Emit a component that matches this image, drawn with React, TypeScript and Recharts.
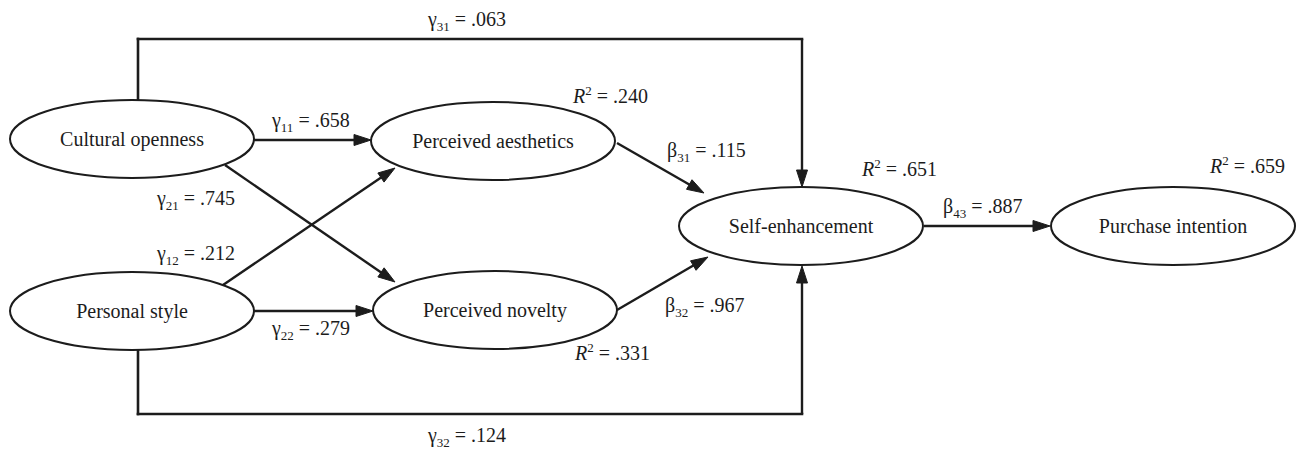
import React from 'react';
import { ScatterChart, Scatter, XAxis, YAxis, ReferenceLine } from 'recharts';

// Latent constructs (position in diagram units)
const nodeNames = [
  'Cultural openness',
  'Personal style',
  'Perceived aesthetics',
  'Perceived novelty',
  'Self-enhancement',
  'Purchase intention',
];
const nodeX = [132, 132, 493, 495, 801, 1173];
const nodeY = [139, 311, 141, 310, 226, 226];

// Path segments: [x1, y1, x2, y2, hasArrow]
const pathSegments: [number, number, number, number, boolean][] = [
  [253, 140, 371, 140, true], // CO -> PA
  [225, 165, 395, 282, true], // CO -> PN
  [223, 285, 395, 168, true], // PS -> PA
  [253, 311, 373, 311, true], // PS -> PN
  [617, 143, 704, 193, true], // PA -> SE
  [617, 310, 708, 257, true], // PN -> SE
  [924, 226, 1050, 226, true], // SE -> PI
  [138, 100, 138, 39, false], // CO -> SE (top route)
  [138, 39, 802, 39, false],
  [802, 39, 802, 187, true],
  [138, 351, 138, 414, false], // PS -> SE (bottom route)
  [138, 414, 802, 414, false],
  [802, 414, 802, 266, true],
];

// Path coefficients
const coefSymbols = ['γ', 'γ', 'γ', 'γ', 'γ', 'γ', 'β', 'β', 'β'];
const coefIndices = ['31', '11', '21', '12', '22', '32', '31', '32', '43'];
const coefValues = ['.063', '.658', '.745', '.212', '.279', '.124', '.115', '.967', '.887'];
const coefX = [428, 272, 157, 157, 272, 428, 667, 665, 943];
const coefY = [26, 127, 205, 260, 335, 442, 157, 312, 213];

// Explained variance
const r2Values = ['.240', '.331', '.651', '.659'];
const r2X = [573, 575, 862, 1210];
const r2Y = [103, 360, 176, 173];

const FONT = '"Liberation Serif", "Times New Roman", Times, serif';
const INK = '#1c1c1c';

const nodes = nodeNames.map((name, i) => ({ name, x: nodeX[i], y: nodeY[i] }));
const coefs = coefValues.map((v, i) => ({
  kind: 'coef',
  sym: coefSymbols[i],
  idx: coefIndices[i],
  value: v,
  x: coefX[i],
  y: coefY[i],
}));
const r2s = r2Values.map((v, i) => ({ kind: 'r2', value: v, x: r2X[i], y: r2Y[i] }));

const NodeShape = (props: any) => {
  const { cx, cy } = props;
  const d = props.payload ?? props;
  if (cx == null || cy == null) return <g />;
  return (
    <g>
      <ellipse cx={cx} cy={cy} rx={122} ry={39} fill="#fff" stroke={INK} strokeWidth={2} />
      <text
        x={cx}
        y={cy + 7}
        textAnchor="middle"
        fontFamily={FONT}
        fontSize={20}
        fill={INK}
      >
        {d.name}
      </text>
    </g>
  );
};

const LabelShape = (props: any) => {
  const { cx, cy } = props;
  const d = props.payload ?? props;
  if (cx == null || cy == null) return <g />;
  if (d.kind === 'r2') {
    return (
      <text x={cx} y={cy} fontFamily={FONT} fontSize={20} fill={INK}>
        <tspan fontStyle="italic">R</tspan>
        <tspan fontSize={13} dy={-8}>2</tspan>
        <tspan dy={8}>{' = ' + d.value}</tspan>
      </text>
    );
  }
  return (
    <text x={cx} y={cy} fontFamily={FONT} fontSize={20} fill={INK}>
      <tspan>{d.sym}</tspan>
      <tspan fontSize={13} dy={5}>{d.idx}</tspan>
      <tspan dy={-5}>{' = ' + d.value}</tspan>
    </text>
  );
};

const makeArrowShape = (arrow: boolean) => (p: any) => {
  const { x1, y1, x2, y2 } = p;
  const dx = x2 - x1;
  const dy = y2 - y1;
  const len = Math.sqrt(dx * dx + dy * dy) || 1;
  const ux = dx / len;
  const uy = dy / len;
  const headLen = 17;
  const headHalf = 5.5;
  if (!arrow) {
    return (
      <line x1={x1} y1={y1} x2={x2} y2={y2} stroke={INK} strokeWidth={2.6} strokeLinecap="square" />
    );
  }
  const bx = x2 - ux * headLen;
  const by = y2 - uy * headLen;
  const px = -uy * headHalf;
  const py = ux * headHalf;
  return (
    <g>
      <line x1={x1} y1={y1} x2={bx + ux * 2} y2={by + uy * 2} stroke={INK} strokeWidth={2.4} />
      <polygon
        points={`${x2},${y2} ${bx + px},${by + py} ${bx - px},${by - py}`}
        fill={INK}
        stroke={INK}
        strokeWidth={1}
        strokeLinejoin="miter"
      />
    </g>
  );
};

export default function App() {
  return (
    <div style={{ position: 'absolute', left: 0, top: 0, background: '#fff' }}>
      <ScatterChart width={1298} height={450} margin={{ top: 0, right: 0, bottom: 0, left: 0 }}>
        <XAxis type="number" dataKey="x" domain={[0, 1298]} hide allowDataOverflow />
        <YAxis type="number" dataKey="y" domain={[0, 450]} reversed hide allowDataOverflow />
        {pathSegments.map((s, i) => (
          <ReferenceLine
            key={'seg' + i}
            segment={[
              { x: s[0], y: s[1] },
              { x: s[2], y: s[3] },
            ]}
            ifOverflow="visible"
            shape={makeArrowShape(s[4])}
          />
        ))}
        <Scatter data={nodes} shape={NodeShape} isAnimationActive={false} />
        <Scatter data={coefs} shape={LabelShape} isAnimationActive={false} />
        <Scatter data={r2s} shape={LabelShape} isAnimationActive={false} />
      </ScatterChart>
    </div>
  );
}
